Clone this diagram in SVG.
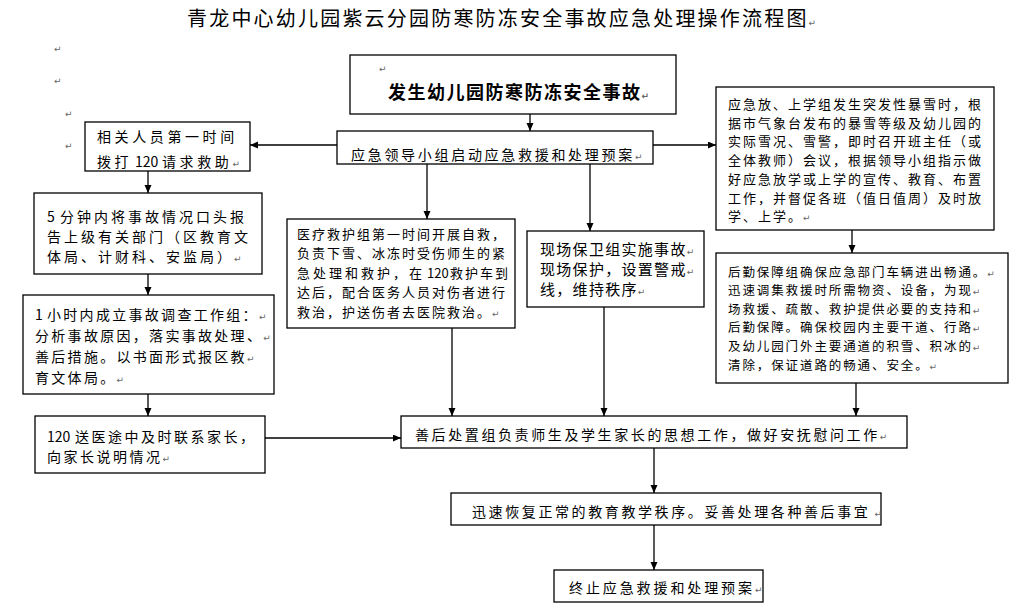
<svg xmlns="http://www.w3.org/2000/svg" width="1024" height="612" viewBox="0 0 1024 612">
<style>
  .box{fill:#fff;stroke:#000;stroke-width:1.3}
  .t{font-family:"Noto Sans CJK SC","Noto Sans",sans-serif;fill:#000}
  .num{letter-spacing:0}
  .pm{font-family:"DejaVu Sans",sans-serif;font-size:9px;fill:#666;letter-spacing:0}
  .c{stroke:#000;stroke-width:1.3;fill:none;marker-end:url(#ah)}
</style>
<defs>
  <marker id="ah" markerUnits="userSpaceOnUse" markerWidth="9" markerHeight="8" refX="8" refY="3.5" orient="auto">
    <path d="M0,0 L8,3.5 L0,7 z" fill="#000"/>
  </marker>
</defs>
<rect width="1024" height="612" fill="#fff"/>

<text class="t" x="187" y="26" font-size="20" letter-spacing="2.2">青龙中心幼儿园紫云分园防寒防冻安全事故应急处理操作流程图<tspan class="pm">↵</tspan></text>

<g id="marks">
  <text class="pm" x="54" y="52">↵</text>
  <text class="pm" x="54" y="84">↵</text>
  <text class="pm" x="65" y="117">↵</text>
  <text class="pm" x="65" y="149">↵</text>
</g>

<g id="connectors">
  <line class="c" x1="530" y1="114" x2="530" y2="131"/>
  <line class="c" x1="337" y1="145" x2="250" y2="145"/>
  <line class="c" x1="653" y1="145" x2="716" y2="145"/>
  <line class="c" x1="148" y1="171" x2="148" y2="193"/>
  <line class="c" x1="148" y1="274" x2="148" y2="295"/>
  <line class="c" x1="148" y1="394" x2="148" y2="416"/>
  <line class="c" x1="427" y1="164" x2="427" y2="219"/>
  <line class="c" x1="590" y1="164" x2="590" y2="231"/>
  <line class="c" x1="852" y1="230" x2="852" y2="253"/>
  <line class="c" x1="265" y1="438" x2="401" y2="438"/>
  <line class="c" x1="452" y1="328" x2="452" y2="416"/>
  <line class="c" x1="604" y1="307" x2="604" y2="416"/>
  <line class="c" x1="856" y1="383" x2="856" y2="416"/>
  <line class="c" x1="654" y1="448" x2="654" y2="493"/>
  <line class="c" x1="654" y1="525" x2="654" y2="570"/>
</g>

<g id="n-start">
  <rect class="box" x="350" y="55" width="326" height="59"/>
  <text class="pm" x="379" y="72">↵</text>
  <text class="t" x="388" y="99" font-size="18" font-weight="bold" letter-spacing="1.5">发生幼儿园防寒防冻安全事故<tspan class="pm">↵</tspan></text>
</g>

<g id="n-lead">
  <rect class="box" x="337" y="131" width="316" height="33"/>
  <text class="t" x="351" y="160" font-size="14" letter-spacing="2.7">应急领导小组启动应急救援和处理预案<tspan class="pm">↵</tspan></text>
</g>

<g id="n-call">
  <rect class="box" x="85" y="122" width="165" height="49"/>
  <text class="t" font-size="14" letter-spacing="3.6">
    <tspan x="97" y="142">相关人员第一时间</tspan>
    <tspan x="97" y="167">拨打</tspan><tspan class="num" x="135" y="167">120</tspan><tspan x="162" y="167">请求救助<tspan class="pm">↵</tspan></tspan>
  </text>
</g>

<g id="n-report">
  <rect class="box" x="34" y="193" width="228" height="81"/>
  <text class="t" font-size="14" letter-spacing="3">
    <tspan x="47" y="222">5</tspan><tspan x="60" y="222">分钟内将事故情况口头报</tspan>
    <tspan x="47" y="242">告上级有关部门（区教育文</tspan>
    <tspan x="47" y="262">体局、计财科、安监局）<tspan class="pm">↵</tspan></tspan>
  </text>
</g>

<g id="n-investigate">
  <rect class="box" x="23" y="295" width="251" height="99"/>
  <text class="t" font-size="14" letter-spacing="2.3">
    <tspan x="35" y="320">1</tspan><tspan x="47" y="320">小时内成立事故调查工作组：<tspan class="pm">↵</tspan></tspan>
    <tspan x="35" y="341">分析事故原因，落实事故处理、<tspan class="pm">↵</tspan></tspan>
    <tspan x="35" y="362">善后措施。以书面形式报区教<tspan class="pm">↵</tspan></tspan>
    <tspan x="35" y="383">育文体局。<tspan class="pm">↵</tspan></tspan>
  </text>
</g>

<g id="n-parents">
  <rect class="box" x="35" y="416" width="230" height="57"/>
  <text class="t" font-size="14" letter-spacing="2.5">
    <tspan class="num" x="47" y="442">120</tspan><tspan x="75" y="442">送医途中及时联系家长，</tspan>
    <tspan x="47" y="462">向家长说明情况<tspan class="pm">↵</tspan></tspan>
  </text>
</g>

<g id="n-medical">
  <rect class="box" x="287" y="219" width="228" height="109"/>
  <text class="t" font-size="13" letter-spacing="2">
    <tspan x="297" y="238.5">医疗救护组第一时间开展自救，</tspan>
    <tspan x="297" y="258">负责下雪、冰冻时受伤师生的紧</tspan>
    <tspan x="297" y="277.5" letter-spacing="3">急处理和救护，在</tspan><tspan class="num" x="427" y="277.5">120</tspan><tspan x="450" y="277.5">救护车到</tspan>
    <tspan x="297" y="297">达后，配合医务人员对伤者进行</tspan>
    <tspan x="297" y="316.5">救治，护送伤者去医院救治。<tspan class="pm">↵</tspan></tspan>
  </text>
</g>

<g id="n-guard">
  <rect class="box" x="527" y="231" width="177" height="76"/>
  <text class="t" font-size="15" letter-spacing="1.3">
    <tspan x="540" y="255">现场保卫组实施事故<tspan class="pm">↵</tspan></tspan>
    <tspan x="540" y="275">现场保护，设置警戒<tspan class="pm">↵</tspan></tspan>
    <tspan x="540" y="295">线，维持秩序<tspan class="pm">↵</tspan></tspan>
  </text>
</g>

<g id="n-snow">
  <rect class="box" x="716" y="87" width="278" height="143"/>
  <text class="t" font-size="13" letter-spacing="2">
    <tspan x="728" y="109">应急放、上学组发生突发性暴雪时，根</tspan>
    <tspan x="728" y="127.7">据市气象台发布的暴雪等级及幼儿园的</tspan>
    <tspan x="728" y="146.4">实际雪况、雪警，即时召开班主任（或</tspan>
    <tspan x="728" y="165">全体教师）会议，根据领导小组指示做</tspan>
    <tspan x="728" y="183.8">好应急放学或上学的宣传、教育、布置</tspan>
    <tspan x="728" y="202.5">工作，并督促各班（值日值周）及时放</tspan>
    <tspan x="728" y="221">学、上学。<tspan class="pm">↵</tspan></tspan>
  </text>
</g>

<g id="n-logistics">
  <rect class="box" x="716" y="253" width="292" height="130"/>
  <text class="t" font-size="12.5" letter-spacing="1.9">
    <tspan x="728" y="276.5">后勤保障组确保应急部门车辆进出畅通。<tspan class="pm">↵</tspan></tspan>
    <tspan x="728" y="295.1">迅速调集救援时所需物资、设备，为现<tspan class="pm">↵</tspan></tspan>
    <tspan x="728" y="313.7">场救援、疏散、救护提供必要的支持和<tspan class="pm">↵</tspan></tspan>
    <tspan x="728" y="332.3">后勤保障。确保校园内主要干道、行路<tspan class="pm">↵</tspan></tspan>
    <tspan x="728" y="350.9">及幼儿园门外主要通道的积雪、积冰的<tspan class="pm">↵</tspan></tspan>
    <tspan x="728" y="369.5">清除，保证道路的畅通、安全。<tspan class="pm">↵</tspan></tspan>
  </text>
</g>

<g id="n-aftercare">
  <rect class="box" x="401" y="416" width="506" height="32"/>
  <text class="t" x="415" y="440" font-size="14" letter-spacing="2.6">善后处置组负责师生及学生家长的思想工作，做好安抚慰问工作<tspan class="pm">↵</tspan></text>
</g>

<g id="n-restore">
  <rect class="box" x="451" y="493" width="430" height="32"/>
  <text class="t" x="472" y="517" font-size="14" letter-spacing="2.6">迅速恢复正常的教育教学秩序。妥善处理各种善后事宜<tspan class="pm" dx="4">↵</tspan></text>
</g>

<g id="n-end">
  <rect class="box" x="554" y="570" width="209" height="32"/>
  <text class="t" x="569" y="593" font-size="14" letter-spacing="2.9">终止应急救援和处理预案<tspan class="pm">↵</tspan></text>
</g>
</svg>
